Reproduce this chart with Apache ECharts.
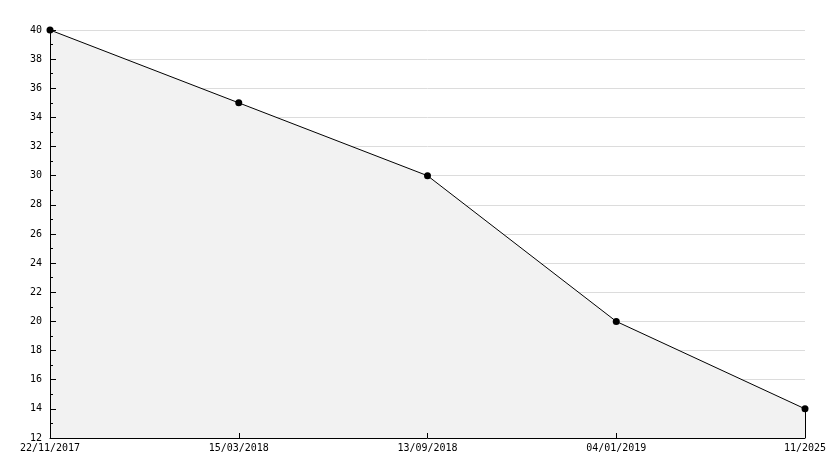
<!DOCTYPE html>
<html><head><meta charset="utf-8">
<script src="https://cdn.jsdelivr.net/npm/echarts@6/dist/echarts.min.js"></script>
<style>html,body{margin:0;padding:0;background:#fff}#c{width:834px;height:468px}</style>
</head><body><div id="c"></div>
<script>
const categories = ['22/11/2017', '15/03/2018', '13/09/2018', '04/01/2019', '11/2025'];
const values = [40, 35, 30, 20, 14];
const yMin = 12, yMax = 40, yStep = 2;

const chart = echarts.init(document.getElementById('c'), null, {renderer: 'canvas'});
const font = {fontFamily: 'DejaVu Sans Mono', fontSize: 10, color: '#000'};
chart.setOption({
  animation: false,
  grid: {left: 50, right: 29, top: 30, bottom: 30, containLabel: false},
  xAxis: {
    type: 'category', data: categories, boundaryGap: false, zlevel: 2,
    axisLine: {lineStyle: {color: '#000', width: 1}},
    axisTick: {inside: true, length: 5, lineStyle: {color: '#000'}},
    axisLabel: Object.assign({margin: 5, interval: 0}, font),
    splitLine: {show: false}
  },
  yAxis: [{
    type: 'value', min: yMin, max: yMax, interval: yStep, zlevel: 0,
    axisLine: {show: false}, axisTick: {show: false}, axisLabel: {show: false},
    splitLine: {show: true, lineStyle: {color: '#dcdcdc', width: 1}}
  }, {
    type: 'value', min: yMin, max: yMax, interval: yStep, zlevel: 2, position: 'left',
    axisLine: {show: true, lineStyle: {color: '#000', width: 1}},
    axisTick: {show: true, inside: true, length: 6, lineStyle: {color: '#000'}},
    minorTick: {show: true, splitNumber: 2, length: 3, lineStyle: {color: '#000'}},
    axisLabel: Object.assign({margin: 8}, font),
    splitLine: {show: false}
  }],
  series: [{
    type: 'line', data: values, yAxisIndex: 0, zlevel: 1,
    symbol: 'circle', symbolSize: 7,
    itemStyle: {color: '#000'},
    lineStyle: {color: '#000', width: 1},
    areaStyle: {color: '#f2f2f2', opacity: 1, origin: 'start'},
    markLine: {
      silent: true, symbol: 'none', label: {show: false},
      lineStyle: {color: '#000', width: 1, type: 'solid'},
      data: [[{coord: [categories.length - 1, yMin]}, {coord: [categories.length - 1, values[values.length - 1]]}]]
    }
  }]
});
</script></body></html>
